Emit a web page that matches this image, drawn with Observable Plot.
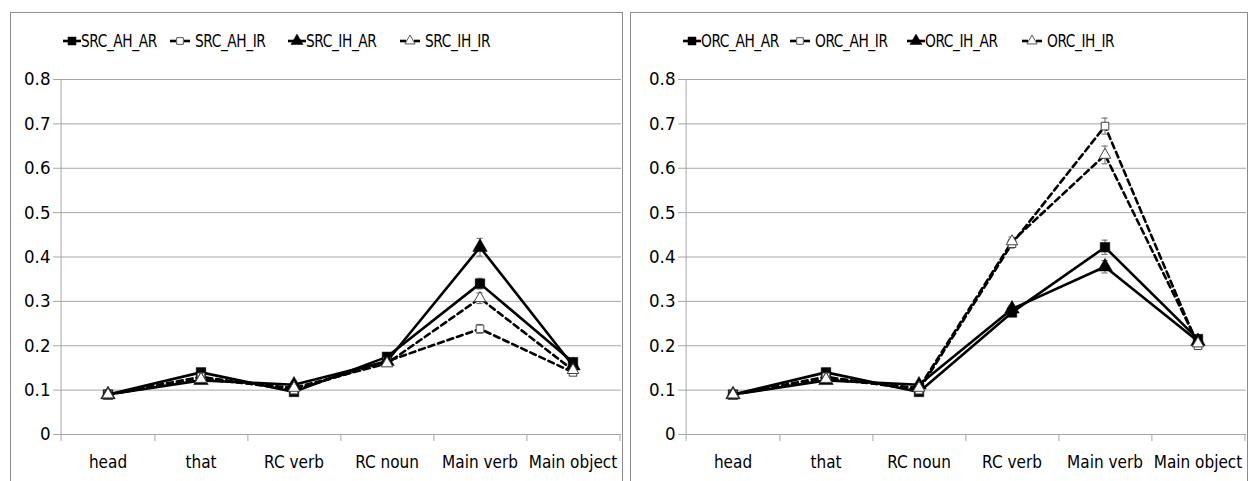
<!DOCTYPE html>
<html>
<head>
<meta charset="utf-8">
<script src="https://cdn.jsdelivr.net/npm/d3@7"></script>
<script src="https://cdn.jsdelivr.net/npm/@observablehq/plot@0.6"></script>
<style>
  html, body { margin: 0; padding: 0; background: #fff; }
  body { width: 1248px; height: 481px; position: relative; overflow: hidden;
         font-family: 'Liberation Sans Narrow', 'DejaVu Sans Condensed', 'Open Sans', sans-serif; }
  .panel { position: absolute; top: 12px; height: 480px; border: 1px solid #8c8c8c; box-sizing: border-box; }
  .legend { position: absolute; top: 30px; left: 0; width: 1248px; height: 22px; font-size: 18px; letter-spacing: -0.5px; color: #000; }
  .legend .item { position: absolute; top: 0; display: flex; align-items: center; white-space: nowrap; }
  .legend .item span { display: inline-block; transform-origin: 0 50%; transform: scaleX(0.85); }
  .legend svg { display: block; }
  .plotbox { position: absolute; top: 60px; }
</style>
</head>
<body>
<div class="panel" style="left:10px;width:613px;"></div>
<div class="panel" style="left:630px;width:618px;"></div>
<div class="legend" id="leg"></div>
<div class="plotbox" id="plotL" style="left:10px;"></div>
<div class="plotbox" id="plotR" style="left:632px;"></div>
<script>
// ---------- data ----------
const categoriesSRC = ["head", "that", "RC verb", "RC noun", "Main verb", "Main object"];
const categoriesORC = ["head", "that", "RC noun", "RC verb", "Main verb", "Main object"];

const seriesSRC = ["SRC_AH_AR", "SRC_AH_IR", "SRC_IH_AR", "SRC_IH_IR"];
const seriesORC = ["ORC_AH_AR", "ORC_AH_IR", "ORC_IH_AR", "ORC_IH_IR"];

const SRC_AH_AR = [0.090, 0.140, 0.096, 0.175, 0.340, 0.163];
const SRC_AH_IR = [0.090, 0.130, 0.100, 0.165, 0.238, 0.140];
const SRC_IH_AR = [0.090, 0.122, 0.112, 0.165, 0.422, 0.155];
const SRC_IH_IR = [0.090, 0.125, 0.105, 0.160, 0.307, 0.145];

const SRC_AH_AR_se = [0.005, 0.006, 0.005, 0.006, 0.012, 0.007];
const SRC_AH_IR_se = [0.005, 0.005, 0.005, 0.006, 0.010, 0.006];
const SRC_IH_AR_se = [0.005, 0.006, 0.005, 0.006, 0.020, 0.007];
const SRC_IH_IR_se = [0.005, 0.005, 0.005, 0.006, 0.012, 0.006];

const ORC_AH_AR = [0.090, 0.140, 0.096, 0.275, 0.422, 0.215];
const ORC_AH_IR = [0.090, 0.130, 0.100, 0.430, 0.695, 0.200];
const ORC_IH_AR = [0.090, 0.122, 0.112, 0.283, 0.378, 0.210];
const ORC_IH_IR = [0.090, 0.125, 0.105, 0.435, 0.630, 0.205];

const ORC_AH_AR_se = [0.005, 0.006, 0.005, 0.008, 0.016, 0.008];
const ORC_AH_IR_se = [0.005, 0.005, 0.005, 0.010, 0.018, 0.008];
const ORC_IH_AR_se = [0.005, 0.006, 0.005, 0.008, 0.014, 0.008];
const ORC_IH_IR_se = [0.005, 0.005, 0.005, 0.010, 0.020, 0.008];

const yTicks = [0, 0.1, 0.2, 0.3, 0.4, 0.5, 0.6, 0.7, 0.8];
const yTickLabels = ["0", "0.1", "0.2", "0.3", "0.4", "0.5", "0.6", "0.7", "0.8"];

const seriesStyles = [
  {dash: null, symbol: "square", filled: true},
  {dash: "6,4", symbol: "square", filled: false},
  {dash: null, symbol: "triangle", filled: true},
  {dash: "6,4", symbol: "triangle", filled: false}
];

const FONT = "'Liberation Sans Narrow', 'DejaVu Sans Condensed', 'Open Sans', sans-serif";

function makePanel(cats, names, values, errs, W, ml, mr) {
  const H = 421, mt = 19, mb = 47;
  const rows = [];
  names.forEach((s, k) => cats.forEach((c, i) => rows.push({cat: c, series: s, k, value: values[k][i], se: errs[k][i]})));
  const step = (W - ml - mr) / cats.length;
  const marks = [
    Plot.gridY(yTicks, {stroke: "#a6a6a6", strokeOpacity: 1}),
    Plot.axisY(yTicks, {tickSize: 5, stroke: "#a6a6a6", tickPadding: 3, fontSize: 18.5, fill: "#000", label: null,
      tickFormat: (d, i) => yTickLabels[i]}),
    Plot.ruleY([0], {stroke: "#a6a6a6"}),
    Plot.ruleX(cats.slice(0, 1), {x: d => d, y1: -0.016, y2: 0.8, dx: -step / 2, stroke: "#a6a6a6"}),
    Plot.ruleX(cats, {x: d => d, y1: -0.016, y2: 0, dx: step / 2, stroke: "#a6a6a6"}),
    Plot.axisX({tickSize: 0, tickPadding: 21, fontSize: 17, fill: "#000", label: null})
  ];
  names.forEach((s, k) => {
    const st = seriesStyles[k];
    marks.push(Plot.line(rows.filter(r => r.k === k), {x: "cat", y: "value", stroke: "#000", strokeWidth: 2.6,
      strokeDasharray: st.dash, curve: "linear"}));
  });
  marks.push(Plot.ruleX(rows, {x: "cat", y1: d => d.value - d.se, y2: d => d.value + d.se, stroke: "#666", strokeWidth: 1}));
  marks.push(Plot.tickY(rows, {x: "cat", y: d => d.value + d.se, stroke: "#666", insetLeft: step / 2 - 3.5, insetRight: step / 2 - 3.5}));
  marks.push(Plot.tickY(rows, {x: "cat", y: d => d.value - d.se, stroke: "#666", insetLeft: step / 2 - 3.5, insetRight: step / 2 - 3.5}));
  names.forEach((s, k) => {
    const st = seriesStyles[k];
    marks.push(Plot.dot(rows.filter(r => r.k === k), {x: "cat", y: "value", symbol: () => st.symbol,
      r: st.filled ? 5.4 : 4.3, fill: st.filled ? "#000" : "#fff", stroke: st.filled ? "#000" : "#444",
      strokeWidth: st.filled ? 0.5 : 1}));
  });
  return Plot.plot({
    width: W, height: H,
    marginLeft: ml, marginRight: mr, marginTop: mt, marginBottom: mb,
    style: {fontFamily: FONT, fontSize: "17px", color: "#000", background: "transparent"},
    x: {type: "band", domain: cats, padding: 0, axis: null},
    y: {domain: [0, 0.8], axis: null},
    symbol: {type: "identity"},
    marks
  });
}

// legend item left edges (px in page)
const legendLeftSRC = [63, 170, 288, 400];
const legendLeftORC = [683, 790, 907, 1022];

function makeLegend(el, names, lefts) {
  names.forEach((s, k) => {
    const st = seriesStyles[k];
    const item = document.createElement("div");
    item.className = "item";
    item.style.left = lefts[k] + "px";
    const ns = "http://www.w3.org/2000/svg";
    const w = st.dash ? 20 : 18;
    const svg = document.createElementNS(ns, "svg");
    svg.setAttribute("width", w); svg.setAttribute("height", 14);
    if (st.dash) {
      for (const [a, b] of [[0, 6], [14, 20]]) {
        const l = document.createElementNS(ns, "line");
        l.setAttribute("x1", a); l.setAttribute("x2", b); l.setAttribute("y1", 7); l.setAttribute("y2", 7);
        l.setAttribute("stroke", "#000"); l.setAttribute("stroke-width", 2.6);
        svg.appendChild(l);
      }
    } else {
      const l = document.createElementNS(ns, "line");
      l.setAttribute("x1", 0); l.setAttribute("x2", w); l.setAttribute("y1", 7); l.setAttribute("y2", 7);
      l.setAttribute("stroke", "#000"); l.setAttribute("stroke-width", 2.6);
      svg.appendChild(l);
    }
    const p = document.createElementNS(ns, "path");
    const sym = st.symbol === "square" ? d3.symbolSquare : d3.symbolTriangle;
    p.setAttribute("d", d3.symbol(sym, st.filled ? 64 : 45)());
    p.setAttribute("transform", `translate(${w / 2},7)`);
    p.setAttribute("fill", st.filled ? "#000" : "#fff");
    p.setAttribute("stroke", st.filled ? "#000" : "#555");
    p.setAttribute("stroke-width", st.filled ? 0.5 : 1);
    svg.appendChild(p);
    item.appendChild(svg);
    const t = document.createElement("span");
    t.textContent = s;
    t.style.marginLeft = st.dash ? "5px" : "0px";
    item.appendChild(t);
    el.appendChild(item);
  });
}

const leg = document.getElementById("leg");
makeLegend(leg, seriesSRC, legendLeftSRC);
makeLegend(leg, seriesORC, legendLeftORC);

document.getElementById("plotL").appendChild(
  makePanel(categoriesSRC, seriesSRC, [SRC_AH_AR, SRC_AH_IR, SRC_IH_AR, SRC_IH_IR],
    [SRC_AH_AR_se, SRC_AH_IR_se, SRC_IH_AR_se, SRC_IH_IR_se], 612, 48, 1));
document.getElementById("plotR").appendChild(
  makePanel(categoriesORC, seriesORC, [ORC_AH_AR, ORC_AH_IR, ORC_IH_AR, ORC_IH_IR],
    [ORC_AH_AR_se, ORC_AH_IR_se, ORC_IH_AR_se, ORC_IH_IR_se], 615, 51, 1));
</script>
</body>
</html>
